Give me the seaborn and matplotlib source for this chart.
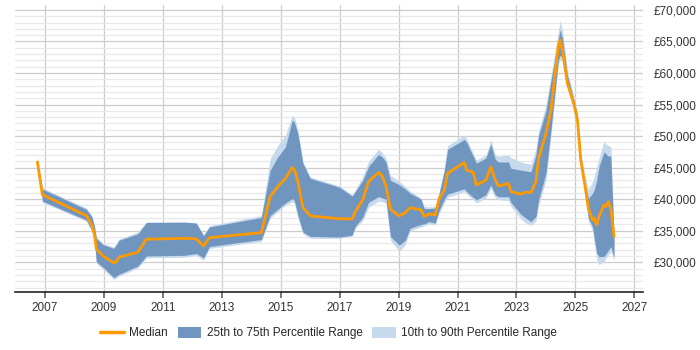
import pandas as pd
import seaborn as sns
import matplotlib.pyplot as plt
from matplotlib.ticker import MultipleLocator, FuncFormatter
from matplotlib.patches import Patch
from matplotlib.lines import Line2D

# values
years = [2006.74, 2006.91, 2008.40, 2008.59, 2008.68, 2008.74, 2008.97, 2009.33, 2009.42, 2009.51,
         2010.15, 2010.44, 2011.74, 2012.13, 2012.38, 2012.58, 2014.34, 2014.64, 2014.90, 2015.16,
         2015.39, 2015.46, 2015.58, 2015.75, 2016.00, 2016.99, 2017.42, 2017.53, 2017.78, 2017.98,
         2018.32, 2018.44, 2018.57, 2018.72, 2019.02, 2019.23, 2019.39, 2019.76, 2019.87, 2020.04,
         2020.24, 2020.38, 2020.55, 2020.66, 2021.23, 2021.31, 2021.53, 2021.64, 2021.96, 2022.13,
         2022.28, 2022.39, 2022.73, 2022.81, 2023.15, 2023.29, 2023.49, 2023.66, 2023.75, 2024.00,
         2024.17, 2024.42, 2024.48, 2024.56, 2024.73, 2024.95, 2025.07, 2025.18, 2025.33, 2025.44,
         2025.58, 2025.64, 2025.72, 2025.80, 2025.97, 2026.03, 2026.12, 2026.20, 2026.31]

p10 = [45600, 39500, 36500, 34900, 33000, 29800, 28900, 27300, 27500, 27800,
       29100, 30700, 30800, 31100, 30300, 32200, 33300, 37000, 38000, 39000,
       39600, 39300, 37000, 34500, 33800, 33800, 34100, 35400, 36600, 38700,
       39700, 39600, 39400, 33500, 31700, 32800, 35000, 35600, 35800, 36100,
       35900, 37800, 39400, 40300, 41200, 40800, 39900, 39400, 40200, 41700,
       40200, 39900, 39800, 38900, 36900, 36300, 35900, 36500, 39000, 43000,
       50000, 61300, 62200, 61800, 57500, 53700, 51500, 45000, 40500, 36500,
       35000, 33000, 30500, 29600, 30200, 30600, 31200, 31700, 30300]

p25 = [45800, 39700, 36700, 35100, 33300, 30100, 29200, 27600, 27800, 28100,
       29400, 31000, 31100, 31400, 30700, 32500, 33600, 37400, 38400, 39400,
       40100, 39800, 37500, 34800, 34100, 34000, 34300, 35700, 37100, 39500,
       40400, 40200, 40000, 34100, 32700, 33500, 35400, 36000, 36100, 36450,
       36200, 38300, 40000, 40800, 41650, 41200, 40300, 39900, 40700, 42250,
       40700, 40400, 40400, 39500, 37600, 37100, 36450, 37240, 39880, 44100,
       51000, 62000, 62800, 62500, 58000, 54300, 52000, 45600, 41000, 37000,
       35650, 33800, 31500, 30900, 30920, 31300, 31900, 32500, 30800]

median = [45900, 40700, 37400, 35900, 34350, 32100, 31000, 29900, 30100, 30800,
          31600, 33650, 33800, 33700, 32600, 33900, 34700, 40400, 42000, 43300,
          45000, 44700, 42800, 38700, 37350, 36900, 36870, 38030, 39900, 42800,
          44250, 43700, 42100, 38400, 37350, 37870, 38650, 38300, 37250, 37660,
          37500, 40150, 41450, 44100, 45830, 44600, 44250, 42250, 43000, 45130,
          43030, 42100, 42500, 41200, 40800, 41100, 41030, 42800, 46460, 50400,
          54100, 64360, 65260, 63570, 58300, 55150, 52500, 46200, 42000, 38560,
          36700, 36980, 35930, 37240, 39100, 38820, 39600, 38560, 34080]

p75 = [46100, 41600, 38400, 37200, 35600, 33800, 32800, 32200, 32800, 33500,
       34500, 36300, 36350, 36200, 34200, 35600, 37100, 44600, 46700, 48300,
       52500, 52200, 50400, 45700, 43300, 41900, 40500, 41200, 43000, 45200,
       47100, 46700, 45900, 43000, 42300, 41600, 40950, 40000, 38500, 38500,
       38600, 41000, 44500, 47900, 49460, 49000, 46800, 45700, 46500, 48700,
       46300, 45900, 45900, 44900, 44600, 44500, 44340, 47000, 50140, 54000,
       58800, 65500, 66800, 65500, 59600, 55600, 53200, 46900, 42400, 40100,
       40930, 41500, 43000, 45130, 47500, 47200, 46820, 46900, 34200]

p90 = [46800, 41800, 38600, 37400, 35800, 34000, 33000, 32400, 33000, 33700,
       34800, 36400, 36400, 36300, 34400, 35800, 37400, 46400, 48500, 50200,
       53300, 53000, 51000, 46000, 43500, 42100, 40700, 41500, 43600, 46000,
       47900, 47400, 46500, 43800, 42800, 42000, 41300, 40200, 38800, 38800,
       38800, 41300, 45000, 48500, 50140, 49600, 47300, 46200, 47000, 49500,
       47000, 46800, 47000, 46600, 45900, 45700, 45560, 48000, 50800, 55000,
       59500, 66500, 68400, 66800, 60300, 56200, 53600, 47400, 43500, 41500,
       42800, 43500, 45000, 46500, 49240, 48700, 48500, 48300, 34600]

year_ticks = list(range(2007, 2028, 2))

df = pd.DataFrame({"year": years, "p10": p10, "p25": p25,
                   "median": median, "p75": p75, "p90": p90})

sns.set_theme(style="white")
plt.rcParams['font.family'] = ['Liberation Sans', 'DejaVu Sans']

light = '#c6d9ed'
dark = '#7096c0'
orange = '#ff9900'

fig, ax = plt.subplots(figsize=(7, 3.5), dpi=100)
fig.subplots_adjust(left=0.021, right=0.918, top=0.986, bottom=0.165)

ax.fill_between(df["year"], df["p10"], df["p90"], color=light, lw=0, zorder=2)
ax.fill_between(df["year"], df["p25"], df["p75"], color=dark, lw=0, zorder=3)
sns.lineplot(data=df, x="year", y="median", color=orange, lw=2, ax=ax,
             legend=False, zorder=4)

ax.set_xlim(2005.97, 2027.28)
ax.set_ylim(25250, 70790)
ax.set_xticks(year_ticks)
ax.yaxis.tick_right()
ax.yaxis.set_major_locator(MultipleLocator(5000))
ax.yaxis.set_minor_locator(MultipleLocator(1000))
ax.yaxis.set_major_formatter(FuncFormatter(lambda v, p: f'£{v:,.0f}'))
ax.set_xlabel('')
ax.set_ylabel('')

ax.grid(axis='y', which='major', color='#cccccc', lw=0.9, zorder=0)
ax.grid(axis='y', which='minor', color='#e8e8e8', lw=0.9, zorder=0)
ax.grid(axis='x', which='major', color='#cccccc', lw=0.9, zorder=0)
ax.set_axisbelow(True)

for s in ['top', 'left', 'right']:
    ax.spines[s].set_visible(False)
ax.spines['bottom'].set_color('#222222')
ax.spines['bottom'].set_linewidth(1.2)

ax.tick_params(axis='x', which='major', bottom=True, length=4, color='#666666',
               labelsize=8.5, labelcolor='#333333', pad=3)
ax.tick_params(axis='y', which='both', right=False, left=False, length=0,
               labelsize=8.5, labelcolor='#333333', pad=8)

handles = [Line2D([0], [0], color=orange, lw=2.5),
           Patch(facecolor=dark, edgecolor='none'),
           Patch(facecolor=light, edgecolor='none')]
labels = ['Median', '25th to 75th Percentile Range', '10th to 90th Percentile Range']
ax.legend(handles, labels, loc='center', bbox_to_anchor=(0.5, -0.142), ncol=3,
          frameon=False, fontsize=8.5, handlelength=2.0, handleheight=1.1,
          columnspacing=0.85, handletextpad=0.45)

fig.savefig('out.png', dpi=100)
